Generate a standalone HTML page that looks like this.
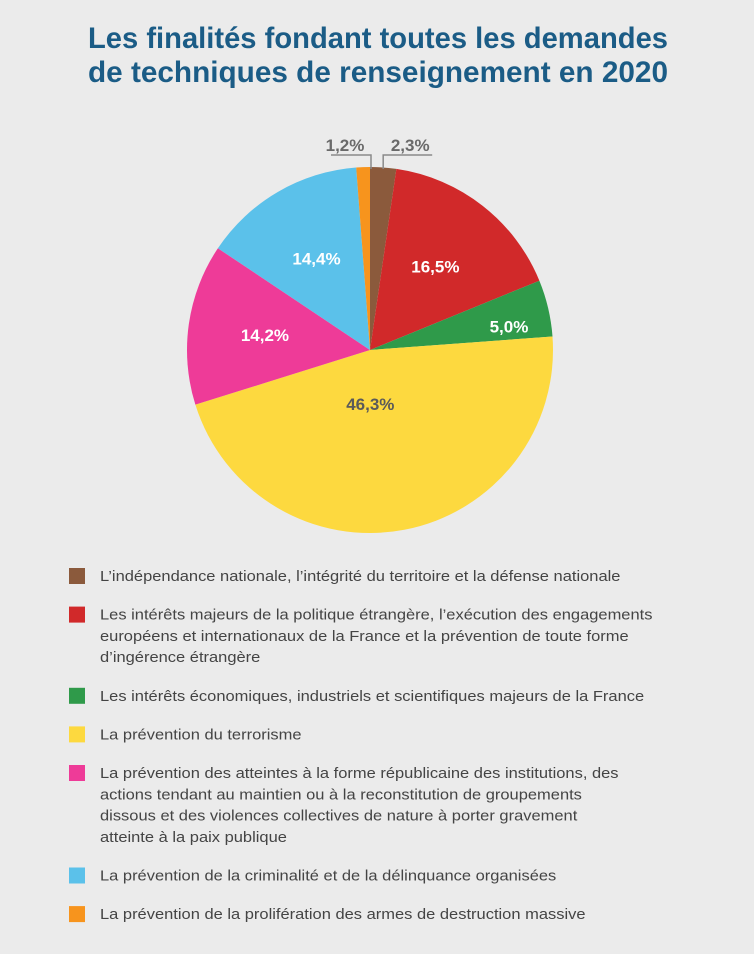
<!DOCTYPE html>
<html><head><meta charset="utf-8"><style>
html,body{margin:0;padding:0;background:#ebebeb;}
svg{display:block;font-family:"Liberation Sans",sans-serif;}
</style></head><body>
<svg width="754" height="954" viewBox="0 0 754 954">
<rect width="754" height="954" fill="#ebebeb"/>
<text x="378" y="48" text-anchor="middle" font-size="30" font-weight="bold" fill="#1b5c86" textLength="580" lengthAdjust="spacingAndGlyphs">Les finalités fondant toutes les demandes</text>
<text x="378" y="82" text-anchor="middle" font-size="30" font-weight="bold" fill="#1b5c86" textLength="580" lengthAdjust="spacingAndGlyphs">de techniques de renseignement en 2020</text>
<g id="pie"></g>
<g id="legend" transform="translate(100,0) scale(1.1,1) translate(-100,0)"></g>
</svg>
<script>
const categories=["L’indépendance nationale, l’intégrité du territoire et la défense nationale","Les intérêts majeurs de la politique étrangère, l’exécution des engagements|européens et internationaux de la France et la prévention de toute forme|d’ingérence étrangère","Les intérêts économiques, industriels et scientifiques majeurs de la France","La prévention du terrorisme","La prévention des atteintes à la forme républicaine des institutions, des|actions tendant au maintien ou à la reconstitution de groupements|dissous et des violences collectives de nature à porter gravement|atteinte à la paix publique","La prévention de la criminalité et de la délinquance organisées","La prévention de la prolifération des armes de destruction massive"];
const values=[2.3,16.5,5.0,46.3,14.2,14.4,1.2];
const valueLabels=["2,3%","16,5%","5,0%","46,3%","14,2%","14,4%","1,2%"];
const colors=["#8b5a3c","#d1292a","#2f9a4a","#fdd93f","#ee3b98","#5bc1ea","#f7941d"];
const NS="http://www.w3.org/2000/svg";
const cx=370,cy=350,r=183;
const total=values.reduce((a,b)=>a+b,0);
const pie=document.getElementById('pie');
function pt(a,rr){return [cx+rr*Math.sin(a),cy-rr*Math.cos(a)];}
let acc=0;
values.forEach((v,i)=>{
  const a0=acc/total*2*Math.PI;acc+=v;const a1=acc/total*2*Math.PI;
  const p0=pt(a0,r),p1=pt(a1,r);
  const path=document.createElementNS(NS,'path');
  path.setAttribute('d',`M${cx},${cy}L${p0[0]},${p0[1]}A${r},${r} 0 ${a1-a0>Math.PI?1:0} 1 ${p1[0]},${p1[1]}Z`);
  path.setAttribute('fill',colors[i]);
  
  
  pie.appendChild(path);
  const am=(a0+a1)/2;
  const t=document.createElementNS(NS,'text');
  t.setAttribute('font-weight','bold');t.setAttribute('font-size','17');
  t.setAttribute('text-anchor','middle');
  
  
  t.textContent=valueLabels[i];
  if(v<3){
    const left=am>Math.PI;
    const ex=left?pt(a1,r)[0]+1:(pt(a0,r)[0]+pt(a1,r)[0])/2;
    const lx=left?ex-26:ex+27;
    t.setAttribute('x',lx);t.setAttribute('y',151);t.setAttribute('fill','#6a6a6a');
    const l=document.createElementNS(NS,'polyline');
    l.setAttribute('points',`${ex},${cy-r+2} ${ex},155 ${left?ex-40:ex+49},155`);
    l.setAttribute('fill','none');l.setAttribute('stroke','#8a8a8a');l.setAttribute('stroke-width','1.5');
    
    
    pie.appendChild(l);
  } else {
    const rr=v>40?0.3*r:(v<8?0.78*r:0.58*r);
    const p=pt(am,rr);
    const dx=v>40?-10:0;
    t.setAttribute('x',p[0]+dx);t.setAttribute('y',p[1]+6+(v<8?9:0));
    t.setAttribute('fill',v>40?'#5a5a5a':'#ffffff');
  }
  pie.appendChild(t);
});
const legend=document.getElementById('legend');
const lineH=21.3,gap=17.3;let y=581;
categories.forEach((c,i)=>{
  const lines=c.split('|');
  const sw=document.createElementNS(NS,'rect');
  sw.setAttribute('x',100-(100-69)/1.1);sw.setAttribute('y',y-13);sw.setAttribute('width',16/1.1);sw.setAttribute('height',16);
  sw.setAttribute('fill',colors[i]);
  
  
  legend.appendChild(sw);
  const t=document.createElementNS(NS,'text');
  t.setAttribute('font-size','15');t.setAttribute('fill','#444');
  
  
  lines.forEach((ln,j)=>{
    const ts=document.createElementNS(NS,'tspan');
    ts.setAttribute('x',100);ts.setAttribute('y',y+j*lineH);ts.textContent=ln;t.appendChild(ts);
  });
  legend.appendChild(t);
  y+=lines.length*lineH+gap;
});
</script>
</body></html>
